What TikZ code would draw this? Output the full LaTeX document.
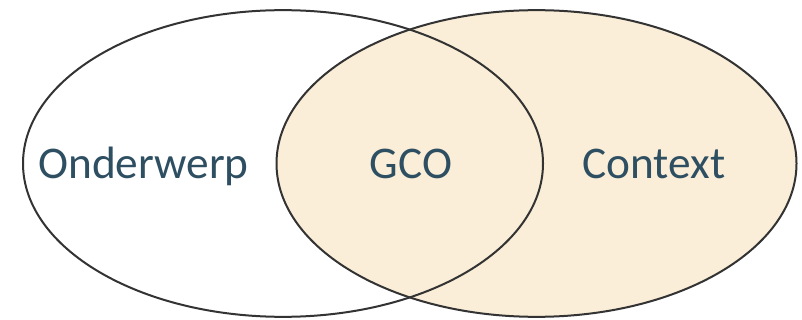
\documentclass[tikz,border=0pt]{standalone}
\usepackage{fontspec}
\setmainfont{Carlito}
\usepackage{tikz}
\usetikzlibrary{shapes.geometric}
\definecolor{vnbeige}{RGB}{250,238,216}
\definecolor{vnline}{RGB}{51,51,51}
\definecolor{vntext}{RGB}{46,79,98}

\begin{document}
\begin{tikzpicture}[x=0.75pt,y=-0.75pt,
    setring/.style={ellipse, draw=vnline, line width=1.5pt, inner sep=0pt,
      minimum width=390pt, minimum height=230pt},
    setlabel/.style={text=vntext, anchor=base, font=\fontsize{34}{40}\selectfont}]
  \useasboundingbox (0,0) rectangle (802,320);
  % Sets
  \node[setring, fill=vnbeige] (context) at (536.5,163.5) {};
  \node[setring] (onderwerp) at (283,163.5) {};
  % Labels
  \node[setlabel] (londerwerp) at (143.5,179) {Onderwerp};
  \node[setlabel] (lgco) at (411,179) {GCO};
  \node[setlabel] (lcontext) at (654,179) {Context};
\end{tikzpicture}
\end{document}
